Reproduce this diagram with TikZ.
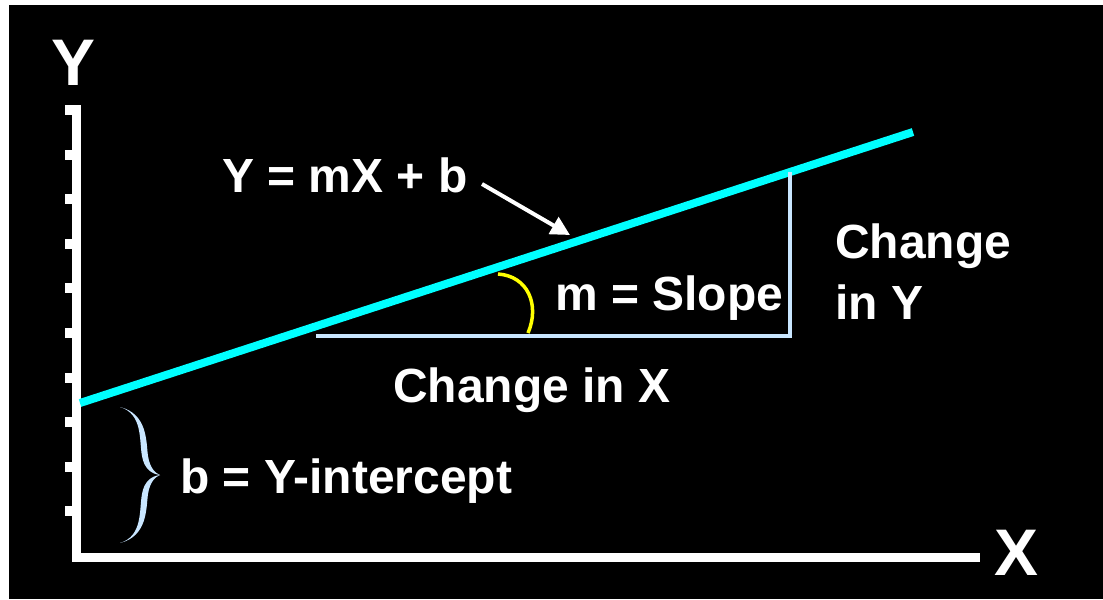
\documentclass[tikz,border=0pt]{standalone}
\usepackage{fontspec}
\setmainfont{Liberation Sans}
\usetikzlibrary{positioning,arrows.meta}
\definecolor{sky}{HTML}{00FFFF}
\definecolor{paleblue}{HTML}{C9E6FF}
\definecolor{gold}{HTML}{FFFF00}

\begin{document}
\begin{tikzpicture}[
      x=0.02cm,y=-0.02cm,
      lbl/.style={text=white,inner sep=0pt,font=\bfseries\fontsize{27.3}{32}\selectfont},
      big/.style={text=white,inner sep=0pt,font=\bfseries\fontsize{37.5}{44}\selectfont},
      axis/.style={draw=white,line width=0.18cm},
      tickmark/.style={draw=white,line width=0.2cm},
      fitline/.style={draw=sky,line width=0.16cm},
      guide/.style={draw=paleblue,line width=0.08cm},
      arr/.style={-{Triangle[length=0.38cm,width=0.38cm]},white,line width=0.08cm}]
      \useasboundingbox (0,0) rectangle (1103,599);
      \fill[black] (9,5) rectangle (1103,599);
      % axes
      \coordinate (ytop) at (76.5,105);
      \coordinate (origin) at (76.5,557);
      \coordinate (xend) at (980,557);
      \draw[axis] (ytop) -- (origin) -- (xend);
      \foreach \k in {0,...,9}
        \draw[tickmark] (65,110+44.6*\k) -- (77,110+44.6*\k);
      \node[big,anchor=base] (ylabel) at (73,85) {Y};
      \node[big,anchor=base] (xlabel) at (1016,575) {X};
      % regression line and slope triangle
      \coordinate (lstart) at (80,403);
      \coordinate (lend) at (913,132);
      \draw[fitline] (lstart) -- (lend);
      \coordinate (runstart) at (316,336);
      \coordinate (corner) at (790,336);
      \coordinate (risetop) at (790,172);
      \draw[guide] (runstart) -- (corner) -- (risetop);
      \draw[gold,line width=0.07cm] (498,274) .. controls (528,276) and (540,305) .. (528,333);
      % labels
      \node[lbl,anchor=base west] (eqn) at (222,192) {Y = mX + b};
      \coordinate (ptrtail) at (482,184);
      \coordinate (ptrtip) at (570,235);
      \draw[arr] (ptrtail) -- (ptrtip);
      \node[lbl,anchor=base west] (slope) at (555,310) {m = Slope};
      \node[lbl,anchor=base west] (dy) at (835,258) {Change};
      \node[lbl,anchor=base west] (dy2) at ([yshift=-1.24cm]dy.base west) {in Y};
      \node[lbl,anchor=base west] (dx) at (393,402) {Change in X};
      % intercept brace
      \fill[paleblue] (120,407) .. controls (148,414) and (146,442) .. (148,456)
        .. controls (150,468) and (155,473) .. (160,475)
        .. controls (151,474) and (144,468) .. (142,456)
        .. controls (139,440) and (143,414) .. (120,407) -- cycle;
      \fill[paleblue] (120,543) .. controls (148,536) and (146,508) .. (148,494)
        .. controls (150,482) and (155,477) .. (160,475)
        .. controls (151,476) and (144,482) .. (142,494)
        .. controls (139,510) and (143,536) .. (120,543) -- cycle;
      \node[lbl,anchor=base west] (bcept) at (180,493) {b = Y-intercept};
    \end{tikzpicture}
\end{document}
